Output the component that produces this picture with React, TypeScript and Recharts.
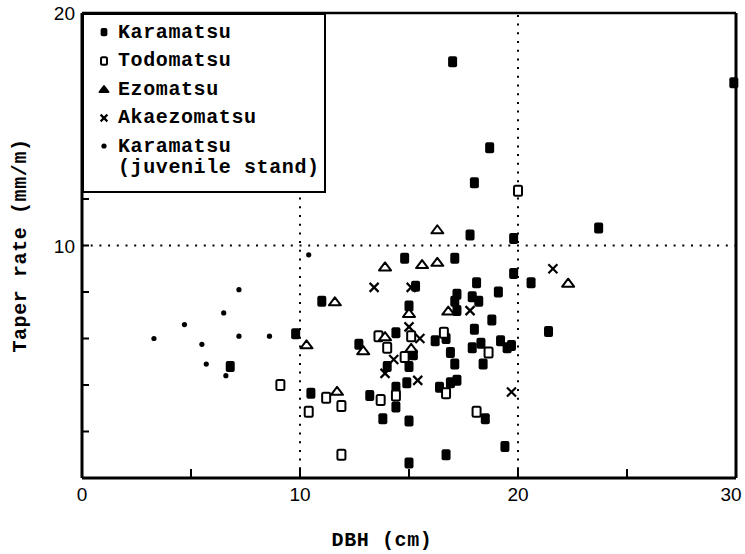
import React from 'react';
import { ScatterChart, Scatter, XAxis, YAxis, ReferenceLine, Legend } from 'recharts';

// [DBH (cm), taper rate (mm/m)]
const karamatsu: [number, number][] = [
  [29.9, 17.0], [17.0, 17.9], [18.7, 14.2], [18.0, 12.7], [17.8, 10.45], [19.8, 10.3],
  [23.7, 10.75], [19.8, 8.8], [20.6, 8.4], [19.1, 8.0], [18.8, 6.8], [21.4, 6.3],
  [19.2, 5.9], [19.7, 5.7], [19.5, 5.6], [18.5, 2.55], [19.4, 1.35], [14.8, 9.45],
  [17.1, 9.45], [15.3, 8.25], [18.1, 8.4], [11.0, 7.6], [17.2, 7.9], [17.9, 7.8],
  [18.2, 7.6], [15.0, 7.4], [17.2, 7.2], [17.1, 7.6], [9.8, 6.2], [14.4, 6.25],
  [16.2, 5.9], [16.7, 6.0], [18.0, 6.4], [12.7, 5.75], [15.2, 5.3], [16.9, 5.4],
  [17.9, 5.6], [18.3, 5.8], [18.4, 4.9], [14.0, 4.8], [15.0, 4.8], [17.1, 4.9],
  [14.9, 4.1], [14.4, 3.9], [16.4, 3.9], [16.9, 4.1], [17.2, 4.2], [10.5, 3.65],
  [13.2, 3.55], [14.4, 3.05], [13.8, 2.55], [15.0, 2.45], [15.0, 0.65], [16.7, 1.0],
  [6.8, 4.8],
];

const todomatsu: [number, number][] = [
  [20.0, 12.35], [18.65, 5.4], [13.6, 6.1], [15.1, 6.1], [16.6, 6.25], [14.0, 5.6],
  [14.8, 5.2], [16.7, 3.65], [9.1, 4.0], [11.2, 3.45], [11.9, 3.1], [10.4, 2.85],
  [13.7, 3.35], [14.4, 3.55], [18.1, 2.85], [11.9, 1.0],
];

const ezomatsu: [number, number][] = [
  [16.3, 10.7], [22.3, 8.4], [13.9, 9.1], [15.6, 9.2], [16.3, 9.3], [11.6, 7.6],
  [15.0, 7.1], [16.8, 7.2], [10.3, 5.75], [13.9, 6.1], [12.9, 5.5], [15.1, 5.6],
  [11.7, 3.75],
];

const akaezomatsu: [number, number][] = [
  [21.6, 9.0], [19.7, 3.7], [13.4, 8.2], [15.1, 8.2], [17.8, 7.2], [15.0, 6.5],
  [15.5, 6.0], [14.3, 5.1], [13.9, 4.5], [15.4, 4.2],
];

const juvenile: [number, number][] = [
  [10.4, 9.6], [8.6, 6.1], [7.2, 8.1], [6.5, 7.1], [4.7, 6.6], [3.3, 6.0],
  [7.2, 6.1], [5.5, 5.75], [5.7, 4.9], [6.6, 4.4],
];

const xTicks = [0, 5, 10, 15, 20, 25, 30];
const yTicks = [0, 2, 4, 6, 8, 10, 12, 14, 16, 18, 20];

const MONO = '"Liberation Mono", "DejaVu Sans Mono", monospace';
const SANS = '"Liberation Sans", Arial, sans-serif';

const toPoints = (rows: [number, number][]) => rows.map(([dbh, taper]) => ({ dbh, taper }));

type Marker = 'square' | 'open' | 'triangle' | 'cross' | 'dot';

function drawMarker(kind: Marker, cx: number, cy: number, small = false) {
  const k = small ? 0.75 : 1;
  switch (kind) {
    case 'square':
      return <rect x={cx - 4.5 * k} y={cy - 5.5 * k} width={9 * k} height={11 * k} rx={2} fill="#000" />;
    case 'open':
      return (
        <rect x={cx - 4 * k} y={cy - 5 * k} width={8 * k} height={10 * k} rx={1.5}
          fill="#fff" stroke="#000" strokeWidth={2} />
      );
    case 'triangle':
      return (
        <polygon
          points={`${cx - 6 * k},${cy + 4 * k} ${cx + 6 * k},${cy + 4 * k} ${cx},${cy - 4 * k}`}
          fill={small ? '#000' : '#fff'} stroke="#000" strokeWidth={2} strokeLinejoin="round" />
      );
    case 'cross':
      return (
        <g stroke="#000" strokeWidth={2.2}>
          <line x1={cx - 4.5 * k} y1={cy - 4.5 * k} x2={cx + 4.5 * k} y2={cy + 4.5 * k} />
          <line x1={cx + 4.5 * k} y1={cy - 4.5 * k} x2={cx - 4.5 * k} y2={cy + 4.5 * k} />
        </g>
      );
    default:
      return <circle cx={cx} cy={cy} r={2.6} fill="#000" />;
  }
}

const series: { name: string; lines: string[]; marker: Marker; data: [number, number][] }[] = [
  { name: 'Karamatsu', lines: ['Karamatsu'], marker: 'square', data: karamatsu },
  { name: 'Todomatsu', lines: ['Todomatsu'], marker: 'open', data: todomatsu },
  { name: 'Ezomatsu', lines: ['Ezomatsu'], marker: 'triangle', data: ezomatsu },
  { name: 'Akaezomatsu', lines: ['Akaezomatsu'], marker: 'cross', data: akaezomatsu },
  { name: 'Karamatsu (juvenile stand)', lines: ['Karamatsu', '(juvenile stand)'], marker: 'dot', data: juvenile },
];

function XTick({ x, y, payload }: any) {
  const v = payload.value;
  // the last label sits against the page edge, nudge it inward
  const dx = v === 30 ? -5 : 0;
  return (
    <g>
      {v > 0 && v < 30 && <line x1={x} x2={x} y1={y} y2={y - 9} stroke="#000" strokeWidth={2} />}
      {v % 10 === 0 && (
        <text x={x + dx} y={y + 23} textAnchor="middle" fontFamily={SANS} fontSize={19} fill="#000">
          {v}
        </text>
      )}
    </g>
  );
}

function YTick({ x, y, payload }: any) {
  const v = payload.value;
  return (
    <g>
      {v > 0 && v < 20 && <line x1={x} x2={x + 7} y1={y} y2={y} stroke="#000" strokeWidth={2} />}
      {v > 0 && v % 10 === 0 && (
        <text x={x - 7} y={y + 7} textAnchor="end" fontFamily={SANS} fontSize={19} fill="#000">
          {v}
        </text>
      )}
    </g>
  );
}

function LegendBox() {
  return (
    <div
      style={{
        boxSizing: 'border-box',
        width: 244,
        height: 180,
        border: '2px solid #000',
        background: '#fff',
        paddingTop: 3,
        paddingLeft: 12,
        fontFamily: MONO,
        fontWeight: 'bold',
        fontSize: 20,
        letterSpacing: 0.6,
        color: '#000',
      }}
    >
      {series.map((s) => (
        <div key={s.name}>
          {s.lines.map((line, i) => (
            <div key={i} style={{ display: 'flex', alignItems: 'center', height: i === 0 ? 28.5 : 14, whiteSpace: 'pre' }}>
              <svg width={16} height={16} style={{ marginRight: 6, flex: 'none' }}>
                {i === 0 && drawMarker(s.marker, 8, 8, true)}
              </svg>
              {line}
            </div>
          ))}
        </div>
      ))}
    </div>
  );
}

export default function App() {
  return (
    <div style={{ width: 745, height: 554, background: '#fff' }}>
      <style>{'body{margin:0}'}</style>
      <ScatterChart width={745} height={554} margin={{ top: 13, right: 9, left: 0, bottom: 0 }}>
        <XAxis
          type="number"
          dataKey="dbh"
          domain={[0, 30]}
          ticks={xTicks}
          height={76}
          tickSize={0}
          tickMargin={0}
          tick={<XTick />}
          axisLine={{ stroke: '#000', strokeWidth: 3 }}
          label={{
            value: 'DBH (cm)',
            position: 'insideBottom',
            offset: 8,
            dx: -27,
            style: { fontFamily: MONO, fontWeight: 'bold', fontSize: 20, letterSpacing: 0.6, fill: '#000' },
          }}
        />
        <YAxis
          type="number"
          dataKey="taper"
          domain={[0, 20]}
          ticks={yTicks}
          width={82}
          tickSize={0}
          tickMargin={0}
          tick={<YTick />}
          axisLine={{ stroke: '#000', strokeWidth: 3 }}
          label={{
            value: 'Taper rate (mm/m)',
            angle: -90,
            position: 'insideLeft',
            offset: 19,
            style: { textAnchor: 'middle', fontFamily: MONO, fontWeight: 'bold', fontSize: 20, letterSpacing: 0.6, fill: '#000' },
          }}
        />
        <ReferenceLine y={10} stroke="#000" strokeWidth={2} strokeDasharray="2 6.7" />
        <ReferenceLine x={10} stroke="#000" strokeWidth={2} strokeDasharray="2 6.7" />
        <ReferenceLine x={20} stroke="#000" strokeWidth={2} strokeDasharray="2 6.7" />
        <ReferenceLine y={20} stroke="#000" strokeWidth={2.5} />
        <ReferenceLine x={30} stroke="#000" strokeWidth={3} />
        {series.map((s) => (
          <Scatter
            key={s.name}
            name={s.name}
            data={toPoints(s.data)}
            isAnimationActive={false}
            shape={(p: any) => drawMarker(s.marker, p.cx, p.cy)}
          />
        ))}
        <Legend
          layout="horizontal"
          verticalAlign="middle"
          align="center"
          content={() => <LegendBox />}
          wrapperStyle={{ left: 82, top: 13, width: 244, height: 180 }}
        />
      </ScatterChart>
    </div>
  );
}
